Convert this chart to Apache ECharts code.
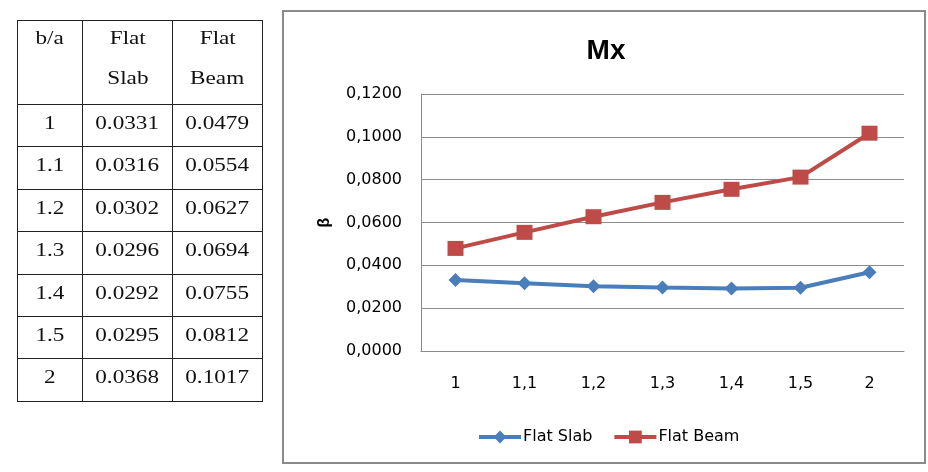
<!DOCTYPE html>
<html>
<head>
<meta charset="utf-8">
<script src="https://cdn.jsdelivr.net/npm/echarts@6/dist/echarts.min.js"></script>
<style>
  html, body { margin: 0; padding: 0; background: #fff; }
  #wrap { position: relative; width: 928px; height: 472px; overflow: hidden; }
  #chart { position: absolute; left: 0; top: 0; width: 928px; height: 472px; }
  #tbl { position: absolute; left: 17px; top: 20px; border-collapse: collapse; font-family: "Liberation Serif", "Times New Roman", serif; font-size: 19px; color: #111; }
  #tbl td { border: 1px solid #222; text-align: center; vertical-align: top; padding: 0; }
  #tbl span { display: inline-block; transform: scaleX(1.22); }
  #tbl tr.hd td { height: 83px; line-height: 40px; }
  #tbl tr.hd td div { margin-top: -3px; }
  #tbl tr.rw td { height: 41.4px; line-height: 24px; }
  #tbl tr.rw td div { margin-top: 6px; }
</style>
</head>
<body>
<div id="wrap">
  <div id="chart"></div>
  <table id="tbl"></table>
</div>
<script>
const categories = ["1", "1.1", "1.2", "1.3", "1.4", "1.5", "2"];
const flatSlab = [0.0331, 0.0316, 0.0302, 0.0296, 0.0292, 0.0295, 0.0368];
const flatBeam = [0.0479, 0.0554, 0.0627, 0.0694, 0.0755, 0.0812, 0.1017];
const headers = [["b/a"], ["Flat", "Slab"], ["Flat", "Beam"]];
const seriesNames = ["Flat Slab", "Flat Beam"];
const chartTitle = "Mx";
const yName = "β";

// Table
const tbl = document.getElementById('tbl');
const widths = [64, 89, 89];
let html = '<tr class="hd">';
headers.forEach((h, i) => {
  html += '<td style="width:' + widths[i] + 'px"><div>' + h.map(t => '<span>' + t + '</span>').join('<br>') + '</div></td>';
});
html += '</tr>';
categories.forEach((c, i) => {
  html += '<tr class="rw"><td><div><span>' + c + '</span></div></td><td><div><span>' + flatSlab[i].toFixed(4) + '</span></div></td><td><div><span>' + flatBeam[i].toFixed(4) + '</span></div></td></tr>';
});
tbl.innerHTML = html;

// Chart
const chart = echarts.init(document.getElementById('chart'), null, { renderer: 'canvas' });
const labelFont = '"DejaVu Sans", "Open Sans", sans-serif';
chart.setOption({
  animation: false,
  backgroundColor: '#fff',
  title: {
    text: chartTitle,
    left: 601,
    top: 32,
    textAlign: 'center',
    textStyle: { fontFamily: '"Liberation Sans", Arial, sans-serif', fontWeight: 'bold', fontSize: 28, color: '#000' }
  },
  graphic: [{
    type: 'rect',
    shape: { x: 283, y: 11, width: 642, height: 452 },
    style: { fill: 'none', stroke: '#8a8a8a', lineWidth: 2 },
    silent: true
  }],
  legend: {
    left: 472,
    top: 424,
    itemWidth: 42,
    itemHeight: 16,
    itemGap: 20,
    lineStyle: { width: 4 },
    textStyle: { fontFamily: labelFont, fontSize: 16, color: '#000', padding: [0, 0, 0, -3] },
    data: seriesNames
  },
  grid: { left: 421, right: 24, top: 94, bottom: 121, containLabel: false },
  xAxis: {
    type: 'category',
    data: categories,
    boundaryGap: true,
    axisLine: { show: true, lineStyle: { color: '#8c8c8c', width: 1 } },
    axisTick: { show: false },
    axisLabel: {
      margin: 25,
      fontFamily: labelFont, fontSize: 16, color: '#000',
      formatter: v => v.replace('.', ',')
    }
  },
  yAxis: {
    type: 'value',
    min: 0,
    max: 0.12,
    interval: 0.02,
    name: yName,
    nameLocation: 'middle',
    nameGap: 88,
    nameRotate: 90,
    nameMoveOverlap: false,
    nameTextStyle: { fontFamily: '"Liberation Sans", Arial, sans-serif', fontWeight: 'bold', fontSize: 16, color: '#000' },
    axisLine: { show: true, lineStyle: { color: '#8c8c8c', width: 1 } },
    axisTick: { show: false },
    splitLine: { show: true, lineStyle: { color: '#8c8c8c', width: 1 } },
    axisLabel: {
      margin: 19,
      fontFamily: labelFont, fontSize: 16, color: '#000',
      formatter: v => v.toFixed(4).replace('.', ',')
    }
  },
  series: [
    {
      name: seriesNames[0],
      type: 'line',
      data: flatSlab,
      symbol: 'diamond',
      symbolSize: 14,
      itemStyle: { color: '#4A7EBB' },
      lineStyle: { color: '#4A7EBB', width: 4 }
    },
    {
      name: seriesNames[1],
      type: 'line',
      data: flatBeam,
      symbol: 'rect',
      symbolSize: [16, 15],
      itemStyle: { color: '#BE4B48' },
      lineStyle: { color: '#BE4B48', width: 4 }
    }
  ]
});
</script>
</body>
</html>
